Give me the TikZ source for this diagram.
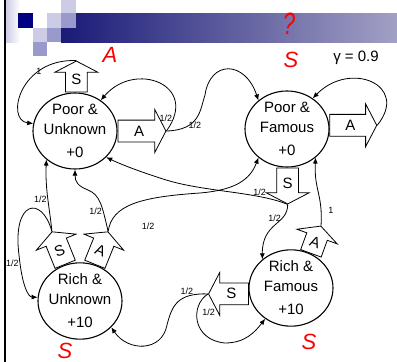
\documentclass[tikz,border=0pt]{standalone}
\usepackage{fontspec}
\setmainfont{Liberation Sans}
\usetikzlibrary{shapes.geometric,shapes.arrows,arrows.meta,backgrounds}

\definecolor{navy}{RGB}{0,0,128}
\definecolor{lilac}{RGB}{204,204,230}
\definecolor{midlilac}{RGB}{153,153,204}
\definecolor{barleft}{RGB}{26,26,120}
\definecolor{barright}{RGB}{162,160,196}
\definecolor{inkred}{RGB}{250,0,0}

\tikzset{
  state/.style={ellipse, draw, fill=white, line width=1.1pt, minimum width=84pt,
    minimum height=76pt, inner xsep=-2.5pt, inner ysep=0pt, align=center,
    font=\fontsize{15}{20}\selectfont},
  act/.style={single arrow, draw, fill=white, line width=0.8pt, anchor=tail,
    inner sep=5.5pt, text height=10pt, text depth=0pt,
    single arrow head extend=10.5pt, single arrow tip angle=125,
    font=\fontsize{15}{15}\selectfont},
  link/.style={line width=0.8pt, -{Latex[length=6pt,width=5pt]}},
  prob/.style={font=\fontsize{9}{9}\selectfont, inner sep=1pt},
  scrawl/.style={text=inkred, font=\fontsize{22}{22}\selectfont\itshape}
}

\begin{document}
\begin{tikzpicture}[x=1pt,y=-1pt]
\begin{scope}[on background layer]
\fill[white] (0,0) rectangle (397,362);
\end{scope}
\useasboundingbox (0,0) rectangle (397,362);

% slide header
\shade[left color=lilac, right color=white] (6,0) rectangle (20,42);
\shade[left color=barleft, right color=barright] (61,13) rectangle (397,42);
\fill[lilac] (61,0) rectangle (76,13);
\fill[navy] (18,13) rectangle (33,28);
\fill[lilac] (47,13) rectangle (61,28);
\fill[midlilac] (61,13) rectangle (76,28);
\fill[lilac] (33,28) rectangle (47,42);
\fill[midlilac] (47,28) rectangle (61,42);
\fill[midlilac] (33,42) rectangle (47,56);
\fill[black] (4,0) rectangle (6,362);

\node[font=\fontsize{15}{15}\selectfont] (gam) at (356,58) {γ = 0.9};

% states
\node[state] (pu) at (75,131) {Poor \&\\Unknown\\[3pt]+0};
\node[state] (pf) at (287,129) {Poor \&\\Famous\\[3pt]+0};
\node[state] (ru) at (80,301) {Rich \&\\Unknown\\[3pt]+10};
\node[state] (rf) at (291,288) {Rich \&\\Famous\\[3pt]+10};

% actions
\node[act, shape border rotate=90, minimum height=31pt] (pus) at (pu.88) {S};
\node[act, minimum height=48pt] (pua) at (pu.east) {A};
\node[act, minimum height=47pt] (pfa) at (pf.5) {A};
\node[act, shape border rotate=270, minimum height=36pt] (pfs) at (pf.-89) {S};
\node[act, rotate=-20, shape border rotate=90, minimum height=29pt] (rfa) at (rf.60) {A};
\node[act, shape border rotate=180, minimum height=40pt] (rfs) at (rf.188) {S};
\node[act, rotate=22, shape border rotate=90, minimum height=35pt] (rus) at (ru.112) {S};
\node[act, rotate=-22, shape border rotate=90, minimum height=35pt] (rua) at (ru.68) {A};

% transitions
\begin{scope}[on background layer]
\draw[link] (pus.tip) .. controls (20,58) and (5,120) .. node[prob, pos=0.28] {1} (pu.170);
\draw[link] (pua.tip) .. controls (200,85) and (135,60) .. node[prob, pos=0.1, left] {1/2} (pu.50);
\draw[link] (pua.tip) .. controls (200,130) and (200,110) .. node[prob, pos=0.45, below] {1/2} (205,95)
  .. controls (210,60) and (245,60) .. (pf.135);
\draw[link] (pfa.tip) .. controls (410,85) and (350,60) .. (pf.50);
\draw[link] (pfs.tip) .. controls (255,191) and (200,192) .. node[prob, pos=0.25, above] {1/2} (160,178)
  .. controls (135,170) and (118,163) .. (pu.-40);
\draw[link] (pfs.tip) .. controls (288,225) and (262,222) .. node[prob, pos=0.3, left] {1/2} (rf.135);
\draw[link] (rfa.tip) .. controls (323,195) and (314,190) .. node[prob, pos=0.2, right=6pt] {1} (pf.-45);
\draw[link] (rfs.tip) .. controls (178,293) and (172,305) .. node[prob, pos=0.3, above] {1/2} (167,325)
  .. controls (162,352) and (128,352) .. (ru.-40);
\draw[link] (rfs.tip) .. controls (190,305) and (192,340) .. node[prob, pos=0.35, right=4pt] {1/2} (225,343)
  .. controls (245,343) and (255,332) .. (rf.-130);
\draw[link] (rus.tip) .. controls (50,210) and (45,190) .. node[prob, pos=0.5, left] {1/2} (pu.-135);
\draw[link] (rus.tip) .. controls (42,195) and (12,200) .. (19,255)
  .. node[prob, pos=0.1, left] {1/2} controls (22,285) and (28,297) .. (ru.175);
\draw[link] (rua.tip) .. controls (102,205) and (100,195) .. node[prob, pos=0.3, left] {1/2} (88,190)
  .. controls (78,186) and (75,182) .. (pu.-90);
\draw[link] (rua.tip) .. controls (112,205) and (140,197) .. node[prob, pos=0.5, xshift=15pt, yshift=-22pt] {1/2} (200,193)
  .. controls (235,190) and (250,180) .. (pf.-135);
\end{scope}

% notes in red
\node[scrawl] (na) at (110,55) {A};
\node[scrawl] (nq) at (289,24) {\scalebox{1}[1.4]{?}};
\node[scrawl] (ns) at (291,60) {S};
\node[scrawl] (nsl) at (65,351) {S};
\node[scrawl] (nsr) at (309,342) {S};
\end{tikzpicture}
\end{document}
